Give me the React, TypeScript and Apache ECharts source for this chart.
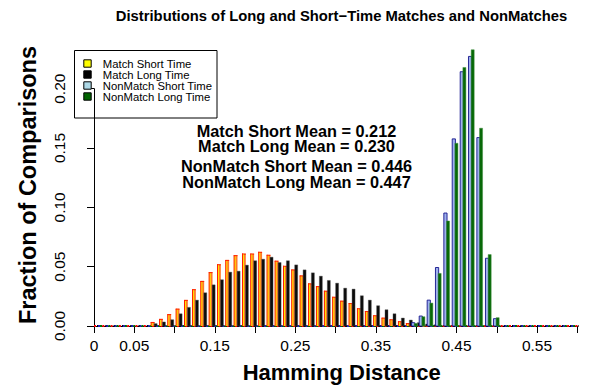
import React, { useEffect, useRef } from "react";
import * as echarts from "echarts";

// Bin positions (Hamming distance)
const matchBins = [
  0.0728, 0.0831, 0.0934, 0.1038, 0.1141, 0.1241, 0.1344, 0.1448, 0.1551, 0.1654,
  0.1758, 0.1861, 0.1964, 0.2063, 0.2167, 0.2267, 0.237, 0.2473, 0.2577, 0.268,
  0.2779, 0.2878, 0.2981, 0.3081, 0.3185, 0.3288, 0.3387, 0.349, 0.3594, 0.3693,
  0.3797, 0.3896, 0.3995, 0.4098, 0.4201,
];
const matchShort = [
  0.0034, 0.006, 0.01, 0.0146, 0.022, 0.031, 0.038, 0.0454, 0.052, 0.0557,
  0.0597, 0.061, 0.061, 0.0625, 0.06, 0.055, 0.0507, 0.0476, 0.0426, 0.0359,
  0.0336, 0.0297, 0.0246, 0.0213, 0.0193, 0.0149, 0.0126, 0.009, 0.007, 0.0056,
  0.004, 0.0025, 0.001, 0.0005, 0,
];
const matchLong = [
  0.002, 0.0034, 0.0053, 0.0103, 0.0157, 0.0218, 0.028, 0.0347, 0.039, 0.0454,
  0.0462, 0.0513, 0.055, 0.0563, 0.058, 0.0535, 0.055, 0.0515, 0.0473, 0.0448,
  0.042, 0.0384, 0.0361, 0.0319, 0.0311, 0.0255, 0.0218, 0.0171, 0.0137, 0.0103,
  0.0067, 0.005, 0.0028, 0.0017, 0.001,
];
const nonMatchBins = [
  0.3962, 0.4057, 0.4156, 0.4259, 0.4363, 0.4467, 0.4566, 0.4669, 0.4773, 0.488, 0.4979,
];
const nonMatchShort = [
  0.0028, 0.0084, 0.0218, 0.0493, 0.0952, 0.1577, 0.2143, 0.2272, 0.1588, 0.0571, 0.0062,
];
const nonMatchLong = [
  0.0022, 0.0078, 0.0193, 0.0443, 0.0885, 0.154, 0.2179, 0.2328, 0.1667, 0.0602, 0.007,
];
const baselineRange = [0, 0.6155];

const xTickLabels = ["0", "0.05", "0.15", "0.25", "0.35", "0.45", "0.55"];
const seriesNames = [
  "Match Short Time",
  "Match Long Time",
  "NonMatch Short Time",
  "NonMatch Long Time",
];
const meanTexts = [
  "Match Short Mean = 0.212",
  "Match Long Mean = 0.230",
  "NonMatch Short Mean = 0.446",
  "NonMatch Long Mean = 0.447",
];
const titleText = "Distributions of Long and Short\u2212Time Matches and NonMatches";
const xTitle = "Hamming Distance";
const yTitle = "Fraction of Comparisons";

const FONT = "'Liberation Sans', Arial, Helvetica, sans-serif";

type BarStyle = { offset: number; width: number; kind: "orange" | "black" | "blue" | "green" };

function barSeries(name: string, bins: number[], values: number[], color: string, st: BarStyle) {
  return {
    type: "custom",
    name,
    clip: false,
    z: 3,
    itemStyle: { color },
    data: bins.map((b, i) => [b, values[i]]),
    renderItem: (_params: any, api: any) => {
      const v = api.value(1);
      if (!v) return null;
      const base = api.coord([api.value(0), 0]);
      const top = api.coord([api.value(0), v]);
      const cx = base[0] + st.offset;
      const w = st.width;
      const x0 = cx - w / 2;
      const y0 = top[1];
      const h = base[1] - top[1];
      if (st.kind === "orange") {
        return {
          type: "group",
          children: [
            { type: "rect", shape: { x: x0, y: y0, width: w, height: h }, style: { fill: "#ff7a2a" } },
            { type: "rect", shape: { x: x0, y: y0, width: w, height: 1 }, style: { fill: "#ff2000" } },
            { type: "rect", shape: { x: x0, y: y0, width: 1, height: h }, style: { fill: "#ff2000" } },
            { type: "rect", shape: { x: x0 + 1, y: y0 + 1, width: 1, height: h - 1 }, style: { fill: "#ffe600" } },
          ],
        };
      }
      if (st.kind === "blue") {
        return {
          type: "rect",
          shape: { x: x0, y: y0, width: w, height: h },
          style: { fill: "#9fb2ec", stroke: "#14148c", lineWidth: 0.9 },
        };
      }
      if (st.kind === "green") {
        return {
          type: "rect",
          shape: { x: x0, y: y0, width: w, height: h },
          style: { fill: "#076807", stroke: "#3f8f3f", lineWidth: 0.5 },
        };
      }
      return {
        type: "rect",
        shape: { x: x0, y: y0, width: w, height: h },
        style: { fill: "#0c0c0c", stroke: "#555", lineWidth: 0.4 },
      };
    },
  };
}

function baseline(color: string, dashOffset: number) {
  return {
    type: "line",
    name: "baseline-" + color,
    data: [
      [baselineRange[0], 0],
      [baselineRange[1], 0],
    ],
    symbol: "none",
    silent: true,
    clip: false,
    z: 1,
    lineStyle: { color, width: 2, type: [2, 6.3], dashOffset },
  };
}

function textEl(text: string, x: number, y: number, fontSize: number, extra: any = {}) {
  return {
    type: "text",
    x,
    y,
    ...extra,
    style: {
      text,
      fontSize,
      fontWeight: "bold",
      fontFamily: FONT,
      fill: "#000",
      align: "center",
      verticalAlign: "middle",
      textAlign: "center",
      textVerticalAlign: "middle",
      lineHeight: extra.lineHeight,
    },
  };
}

export default function App() {
  const ref = useRef<HTMLDivElement>(null);
  useEffect(() => {
    if (!ref.current) return;
    const chart = echarts.init(ref.current, undefined, { renderer: "svg" });
    const option: any = {
      animation: false,
      backgroundColor: "#ffffff",
      textStyle: { fontFamily: FONT },
      grid: { left: 94, top: 88.7, width: 483.3, height: 237.3, containLabel: false },
      xAxis: {
        type: "value",
        min: 0,
        max: 0.6,
        interval: 0.05,
        offset: 3.3,
        axisLine: { show: true, lineStyle: { color: "#000", width: 1 } },
        axisTick: { show: true, length: 7, lineStyle: { color: "#000", width: 1 } },
        splitLine: { show: false },
        axisLabel: {
          margin: 8,
          fontSize: 15.5,
          color: "#000",
          fontFamily: FONT,
          showMaxLabel: true,
          showMinLabel: true,
          formatter: (v: number) => {
            const s = Math.abs(v) < 1e-9 ? "0" : v.toFixed(2);
            return xTickLabels.includes(s) ? s : "";
          },
        },
      },
      yAxis: {
        type: "value",
        min: 0,
        max: 0.2,
        interval: 0.05,
        offset: 20,
        axisLine: { show: true, lineStyle: { color: "#000", width: 1 } },
        axisTick: { show: true, length: 7, lineStyle: { color: "#000", width: 1 } },
        splitLine: { show: false },
        axisLabel: {
          rotate: 90,
          margin: 7,
          fontSize: 15.5,
          color: "#000",
          fontFamily: FONT,
          formatter: (v: number) => v.toFixed(2),
        },
      },
      legend: {
        orient: "vertical",
        left: 83.3,
        top: 58,
        padding: 0,
        itemWidth: 7.4,
        itemHeight: 7.4,
        itemGap: 0,
        selectedMode: false,
        textStyle: { fontSize: 11.3, lineHeight: 10.6, color: "#000", fontFamily: FONT, padding: [0, 0, 0, 6.6] },
        data: [
          { name: seriesNames[0], icon: "rect", itemStyle: { color: "#ffff00", borderColor: "#000", borderWidth: 1 } },
          { name: seriesNames[1], icon: "rect", itemStyle: { color: "#000000", borderColor: "#000", borderWidth: 1 } },
          { name: seriesNames[2], icon: "rect", itemStyle: { color: "#add8e6", borderColor: "#000", borderWidth: 1 } },
          { name: seriesNames[3], icon: "rect", itemStyle: { color: "#006400", borderColor: "#000", borderWidth: 1 } },
        ],
      },
      graphic: [
        {
          type: "rect",
          z: 0,
          shape: { x: 74.5, y: 50.5, width: 142.5, height: 67.5 },
          style: { fill: "#fff", stroke: "#000", lineWidth: 1 },
        },
        textEl(titleText, 341.5, 16, 14.8),
        textEl(xTitle, 341.7, 372, 22),
        textEl(yTitle, 28, 185, 23.5, { rotation: Math.PI / 2 }),
        ...meanTexts.map((t, i) =>
          textEl(t, 296.5, [130.7, 146.2, 166, 181.7][i], 16.3, { lineHeight: 14.5 })
        ),
      ],
      series: [
        baseline("#ff0000", 0),
        baseline("#000000", -2.8),
        baseline("#2020c0", -4.4),
        baseline("#007000", -6.2),
        barSeries(seriesNames[0], matchBins, matchShort, "#ffff00", { offset: 0, width: 3.8, kind: "orange" }),
        barSeries(seriesNames[1], matchBins, matchLong, "#000000", { offset: 3.0, width: 3.0, kind: "black" }),
        barSeries(seriesNames[2], nonMatchBins, nonMatchShort, "#add8e6", { offset: 0, width: 3.2, kind: "blue" }),
        barSeries(seriesNames[3], nonMatchBins, nonMatchLong, "#006400", { offset: 2.6, width: 3.0, kind: "green" }),
      ],
    };
    chart.setOption(option);
    return () => chart.dispose();
  }, []);
  return (
    <div
      ref={ref}
      style={{ position: "absolute", left: 0, top: 0, width: 598, height: 388, background: "#fff" }}
    />
  );
}
